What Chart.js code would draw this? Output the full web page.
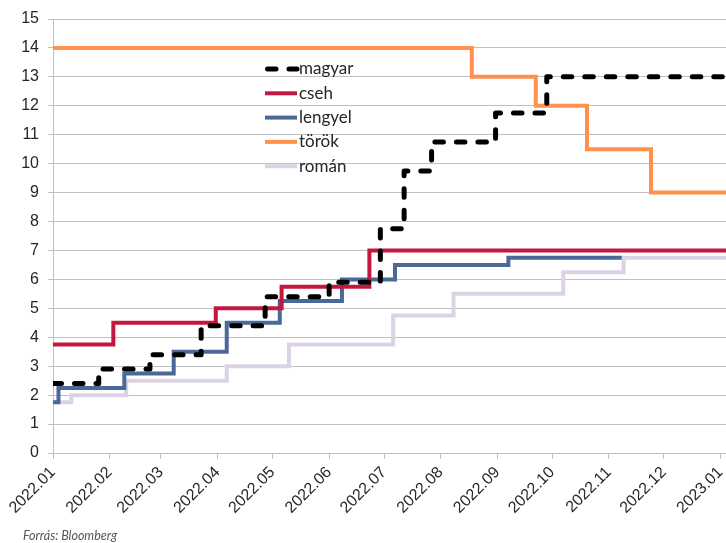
<!DOCTYPE html>
<html>
<head>
<meta charset="utf-8">
<title>Jegybanki alapkamatok 2022</title>
<script src="https://cdn.jsdelivr.net/npm/chart.js@4.4.1/dist/chart.umd.min.js"></script>
<style>
  html, body { margin: 0; padding: 0; background: #ffffff; overflow: hidden; }
  #wrap { position: relative; width: 726px; height: 543px; }
</style>
</head>
<body>
<div id="wrap"><canvas id="chart" width="726" height="543"></canvas></div>
<script>
// Month tick labels along the time axis
const monthLabels = ['2022.01', '2022.02', '2022.03', '2022.04', '2022.05', '2022.06',
                     '2022.07', '2022.08', '2022.09', '2022.10', '2022.11', '2022.12', '2023.01'];
const axisStart = '2022-01-01';
const axisEnd = '2023-01-04';

// Policy rates (%), each value valid from its date on
const magyarDates = ['2022-01-01', '2022-01-26', '2022-02-23', '2022-03-23', '2022-04-27', '2022-06-01',
                     '2022-06-29', '2022-07-12', '2022-07-27', '2022-08-31', '2022-09-28', '2023-01-04'];
const magyarRates = [2.4, 2.9, 3.4, 4.4, 5.4, 5.9, 7.75, 9.75, 10.75, 11.75, 13.0, 13.0];

const csehDates = ['2022-01-01', '2022-02-03', '2022-03-31', '2022-05-06', '2022-06-23', '2023-01-04'];
const csehRates = [3.75, 4.5, 5.0, 5.75, 7.0, 7.0];

const lengyelDates = ['2022-01-01', '2022-01-04', '2022-02-09', '2022-03-08', '2022-04-06', '2022-05-05',
                      '2022-06-08', '2022-07-07', '2022-09-07', '2022-11-08'];
const lengyelRates = [1.75, 2.25, 2.75, 3.5, 4.5, 5.25, 6.0, 6.5, 6.75, 6.75];

const torokDates = ['2022-01-01', '2022-08-18', '2022-09-22', '2022-10-20', '2022-11-24', '2023-01-04'];
const torokRates = [14.0, 13.0, 12.0, 10.5, 9.0, 9.0];

const romanDates = ['2022-01-01', '2022-01-11', '2022-02-10', '2022-04-06', '2022-05-10', '2022-07-06',
                    '2022-08-08', '2022-10-07', '2022-11-09', '2023-01-04'];
const romanRates = [1.75, 2.0, 2.5, 3.0, 3.75, 4.75, 5.5, 6.25, 6.75, 6.75];

// Days elapsed since the axis start ('YYYY-MM-DD' or 'YYYY.MM')
function dayOf(s) {
  const p = s.split(/[-.]/).map(Number);
  const t = Date.UTC(p[0], p[1] - 1, p[2] || 1);
  const s0 = axisStart.split('-').map(Number);
  return (t - Date.UTC(s0[0], s0[1] - 1, s0[2])) / 86400000;
}
function series(dates, rates) {
  return dates.map((d, i) => ({ x: dayOf(d), y: rates[i] }));
}

const textColor = '#262626';
const gridColor = '#c0c0c0';

// Legend drawn inside the plot area
const innerLegend = {
  id: 'innerLegend',
  afterDatasetsDraw(chart) {
    const ctx = chart.ctx;
    const x0 = 265, y0 = 69, len = 32, row = 24.3;
    chart.data.datasets.forEach((ds, i) => {
      const y = y0 + i * row;
      ctx.save();
      ctx.strokeStyle = ds.borderColor;
      ctx.lineWidth = ds.borderWidth;
      if (ds.borderDash) {
        ctx.setLineDash(ds.borderDash);
        ctx.lineCap = 'round';
      }
      ctx.beginPath();
      ctx.moveTo(ds.borderDash ? x0 + 2.5 : x0, y);
      ctx.lineTo(x0 + len, y);
      ctx.stroke();
      ctx.setLineDash([]);
      ctx.fillStyle = textColor;
      ctx.font = '17px Lato';
      ctx.textBaseline = 'middle';
      ctx.fillText(ds.label, x0 + len + 2, y);
      ctx.restore();
    });
  }
};

// Source note under the axis
const sourceNote = {
  id: 'sourceNote',
  afterDraw(chart) {
    const ctx = chart.ctx;
    ctx.save();
    ctx.fillStyle = '#555555';
    ctx.font = 'italic 12.5px Lato';
    ctx.textBaseline = 'alphabetic';
    ctx.fillText('Forrás: Bloomberg', 23, 540);
    ctx.restore();
  }
};

const common = { pointRadius: 0, pointHoverRadius: 0, fill: false, stepped: true, borderWidth: 4 };

new Chart(document.getElementById('chart').getContext('2d'), {
  type: 'line',
  data: {
    datasets: [
      Object.assign({}, common, { label: 'magyar', data: series(magyarDates, magyarRates),
        borderColor: '#000000', borderWidth: 5, borderDash: [8.5, 13], borderCapStyle: 'round', borderJoinStyle: 'round' }),
      Object.assign({}, common, { label: 'cseh', data: series(csehDates, csehRates), borderColor: '#c2183f' }),
      Object.assign({}, common, { label: 'lengyel', data: series(lengyelDates, lengyelRates), borderColor: '#4a6999' }),
      Object.assign({}, common, { label: 'török', data: series(torokDates, torokRates), borderColor: '#ff914d' }),
      Object.assign({}, common, { label: 'román', data: series(romanDates, romanRates), borderColor: '#dcd2e6' })
    ]
  },
  options: {
    responsive: false,
    animation: false,
    events: [],
    layout: { padding: { top: 19, right: 0, bottom: 0, left: 0 } },
    plugins: { legend: { display: false }, tooltip: { enabled: false } },
    scales: {
      x: {
        type: 'linear',
        min: dayOf(axisStart),
        max: dayOf(axisEnd),
        afterBuildTicks(scale) {
          scale.ticks = monthLabels.map(l => ({ value: dayOf(l) }));
        },
        afterFit(scale) {
          scale.paddingLeft = 0;
          scale.paddingRight = 0;
          scale.height = 90;
        },
        ticks: {
          autoSkip: false,
          minRotation: 45,
          maxRotation: 45,
          padding: 4,
          color: textColor,
          font: { family: 'Liberation Sans', size: 16 },
          callback: (v, i) => monthLabels[i]
        },
        grid: { drawOnChartArea: false, drawTicks: true, tickLength: 6, color: gridColor },
        border: { color: gridColor }
      },
      y: {
        min: 0,
        max: 15,
        afterFit(scale) { scale.width = 53; },
        ticks: {
          stepSize: 1,
          padding: 9,
          color: textColor,
          font: { family: 'Liberation Sans', size: 16 }
        },
        grid: { color: gridColor, tickLength: 5 },
        border: { color: gridColor }
      }
    }
  },
  plugins: [innerLegend, sourceNote]
});
</script>
</body>
</html>
